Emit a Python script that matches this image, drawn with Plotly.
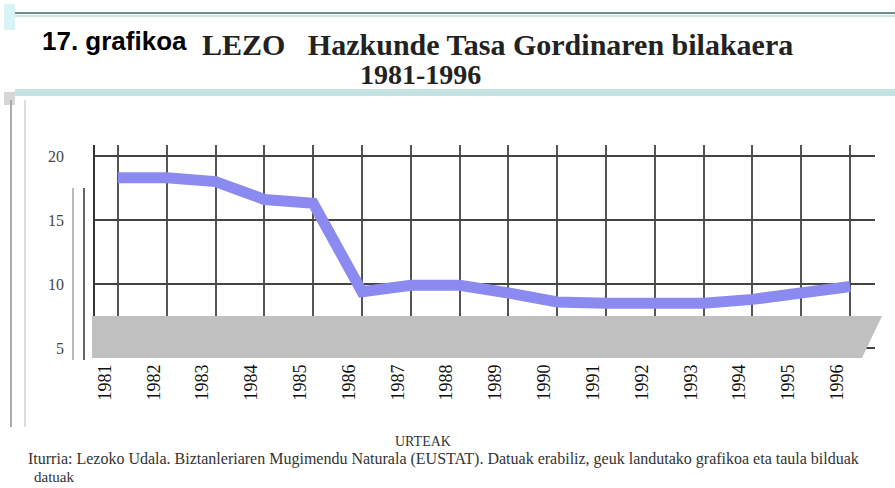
import plotly.graph_objects as go

years = [1981, 1982, 1983, 1984, 1985, 1986, 1987, 1988, 1989, 1990, 1991, 1992, 1993, 1994, 1995, 1996]
rate = [18.3, 18.3, 18.0, 16.6, 16.3, 9.4, 9.9, 9.9, 9.3, 8.6, 8.5, 8.4, 8.5, 8.8, 9.3, 9.8]
y_ticks = [5, 10, 15, 20]
y_tick_text = ["5", "10", "15", "20"]

W, H = 895, 488
L, R, T, B = 95, 875, 145, 358

def px(x):
    return (x - L) / (R - L)

def py(y):
    return (B - y) / (B - T)

fig = go.Figure()
fig.add_trace(go.Scatter(
    x=years, y=rate, mode="lines",
    line=dict(color="#8a8af0", width=11),
    hoverinfo="skip", showlegend=False,
))

shapes = []
# floor of the chart
shapes.append(dict(type="path", xref="paper", yref="paper",
                   path=f"M {px(92)} {py(316)} L {px(882)} {py(316)} L {px(862)} {py(358)} L {px(92)} {py(358)} Z",
                   fillcolor="#c0c0c0", line=dict(width=0), layer="above"))
# header lines
shapes.append(dict(type="line", xref="paper", yref="paper", x0=px(15), x1=px(895), y0=py(13), y1=py(13),
                   line=dict(color="#6f8f8f", width=2)))
shapes.append(dict(type="line", xref="paper", yref="paper", x0=px(15), x1=px(895), y0=py(16), y1=py(16),
                   line=dict(color="#cfe6e6", width=2)))
shapes.append(dict(type="rect", xref="paper", yref="paper", x0=px(15), x1=px(895), y0=py(96), y1=py(89),
                   fillcolor="#c3e2e2", line=dict(width=0)))
shapes.append(dict(type="rect", xref="paper", yref="paper", x0=px(4), x1=px(15), y0=py(30), y1=py(4),
                   fillcolor="#d8f4f4", line=dict(width=0)))
shapes.append(dict(type="rect", xref="paper", yref="paper", x0=px(4), x1=px(15), y0=py(105), y1=py(92),
                   fillcolor="#d6d6d6", line=dict(width=0)))
# left frame lines
shapes.append(dict(type="line", xref="paper", yref="paper", x0=px(11), x1=px(11), y0=py(100), y1=py(427),
                   line=dict(color="#aaaaaa", width=2)))
shapes.append(dict(type="line", xref="paper", yref="paper", x0=px(25), x1=px(25), y0=py(100), y1=py(427),
                   line=dict(color="#bbbbbb", width=1)))
# front axis lines
shapes.append(dict(type="line", xref="paper", yref="paper", x0=px(73), x1=px(73), y0=py(188), y1=py(360),
                   line=dict(color="#777777", width=1)))
shapes.append(dict(type="line", xref="paper", yref="paper", x0=px(84), x1=px(84), y0=py(188), y1=py(360),
                   line=dict(color="#333333", width=1.5)))

annotations = [
    dict(text="<b>17. grafikoa</b>", x=px(40), y=py(41), xref="paper", yref="paper",
         xanchor="left", yanchor="middle", showarrow=False,
         font=dict(family="Liberation Sans", size=26, color="#000000")),
    dict(text="<b>LEZO   Hazkunde Tasa Gordinaren bilakaera</b>", x=px(200), y=py(44), xref="paper", yref="paper",
         xanchor="left", yanchor="middle", showarrow=False,
         font=dict(family="Liberation Serif", size=30, color="#222222")),
    dict(text="<b>1981-1996</b>", x=px(420), y=py(75), xref="paper", yref="paper",
         xanchor="center", yanchor="middle", showarrow=False,
         font=dict(family="Liberation Serif", size=28, color="#222222")),
    dict(text="URTEAK", x=px(423), y=py(441), xref="paper", yref="paper",
         xanchor="center", yanchor="middle", showarrow=False,
         font=dict(family="Liberation Serif", size=14, color="#333333")),
    dict(text="Iturria: Lezoko Udala. Biztanleriaren Mugimendu Naturala (EUSTAT). Datuak erabiliz, geuk landutako grafikoa eta taula bilduak",
         x=px(26), y=py(459), xref="paper", yref="paper",
         xanchor="left", yanchor="middle", showarrow=False,
         font=dict(family="Liberation Serif", size=16, color="#333333")),
    dict(text="datuak", x=px(32), y=py(477), xref="paper", yref="paper",
         xanchor="left", yanchor="middle", showarrow=False,
         font=dict(family="Liberation Serif", size=15, color="#333333")),
]

fig.update_layout(
    width=W, height=H,
    margin=dict(l=L, r=W - R, t=T, b=H - B, pad=0),
    paper_bgcolor="white", plot_bgcolor="white",
    shapes=shapes, annotations=annotations,
    xaxis=dict(range=[1980.53, 1996.51], tickmode="array", tickvals=years,
               ticktext=[str(y) for y in years], tickangle=-90,
               showgrid=True, gridcolor="#555555", gridwidth=1.5, zeroline=False,
               showline=False, ticks="", ticklabelshift=-13, ticklabelstandoff=2,
               tickfont=dict(family="Liberation Serif", size=18, color="#111111")),
    yaxis=dict(range=[4.22, 20.86], tickmode="array", tickvals=y_ticks, ticktext=y_tick_text,
               showgrid=True, gridcolor="#444444", gridwidth=1.5, zeroline=False,
               showline=True, linecolor="#333333", linewidth=1.5, ticks="",
               ticklabelstandoff=26,
               tickfont=dict(family="Liberation Serif", size=16, color="#444444")),
)

fig.write_html("out.html", config={"displayModeBar": False},
               post_script="document.body.style.margin='0';document.body.style.overflow='hidden';")
